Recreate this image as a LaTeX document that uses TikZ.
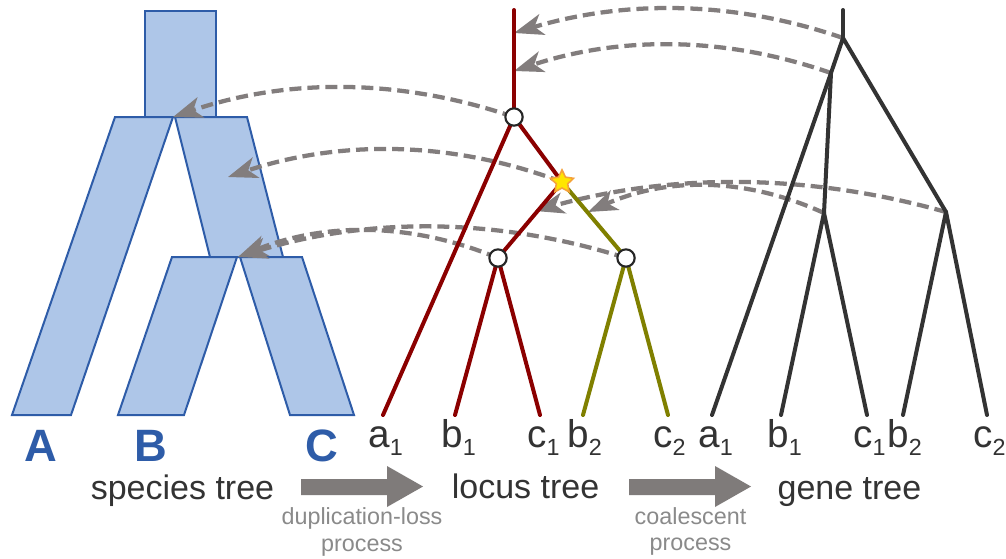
\documentclass[tikz,border=0pt]{standalone}
\usepackage{fontspec}
\setmainfont{Liberation Sans}
\usetikzlibrary{arrows.meta,shapes.geometric}
\definecolor{sfill}{HTML}{AEC6E8}
\definecolor{sdraw}{HTML}{2E5CA8}
\definecolor{lred}{HTML}{8B0000}
\definecolor{lolive}{HTML}{808000}
\definecolor{gdark}{HTML}{333333}
\definecolor{agray}{HTML}{827D7D}
\definecolor{bgray}{HTML}{7F7B7A}
\definecolor{tgray}{HTML}{8A8A8A}
\definecolor{starfill}{HTML}{FFE600}
\definecolor{stardraw}{HTML}{F5A23A}
\newcommand\lsub[1]{\raisebox{-6pt}{\fontsize{17.5pt}{18pt}\selectfont #1}}
\begin{document}
\begin{tikzpicture}[x=0.75pt,y=-0.75pt,
  sbranch/.style={fill=sfill,draw=sdraw,line width=1.5pt,line join=miter},
  redline/.style={draw=lred,line width=3pt,line cap=round},
  oliveline/.style={draw=lolive,line width=3pt,line cap=round},
  geneline/.style={draw=gdark,line width=3pt,line cap=round},
  dupnode/.style={circle,fill=white,draw=black!85,line width=1.6pt,minimum size=13pt,inner sep=0pt},
  lossstar/.style={star,star points=5,star point ratio=2.0,fill=starfill,draw=stardraw,line width=1.2pt,minimum size=18pt,inner sep=0pt},
  mapar/.style={draw=agray,line width=3.2pt,dash pattern=on 9pt off 4.5pt,-{Stealth[length=22pt,width=16pt,inset=6pt]}},
  leaflbl/.style={text=gdark,font=\fontsize{29pt}{30pt}\selectfont,inner sep=0pt,anchor=base west},
  splbl/.style={text=sdraw,font=\bfseries\fontsize{34pt}{36pt}\selectfont,inner sep=0pt,anchor=base},
  ttl/.style={text=gdark,font=\fontsize{25.5pt}{28pt}\selectfont,inner sep=0pt,anchor=base},
  proc/.style={text=tgray,font=\fontsize{17.5pt}{20pt}\selectfont,inner sep=0pt,anchor=base},
  bigarrow/.style={fill=bgray}]
\useasboundingbox (0,0) rectangle (1006,558);
\fill[white] (0,0) rectangle (1006,558);

% species tree
\path[sbranch] (145,11) rectangle (216,117);
\path[sbranch] (115,117) -- (173,117) -- (71,415) -- (12,415) -- cycle;
\path[sbranch] (175,117) -- (247,117) -- (283,257) -- (210,257) -- cycle;
\path[sbranch] (172,257) -- (237,257) -- (184,415) -- (118,415) -- cycle;
\path[sbranch] (240,257) -- (302,257) -- (354,415) -- (290,415) -- cycle;
\coordinate (sRoot) at (173,117);
\coordinate (sBC) at (228,177);
\coordinate (sBCn) at (238,257);

% locus tree coordinates
\coordinate (lTop) at (514,10);
\coordinate (lA1) at (514,33);
\coordinate (lA2) at (514,71);
\coordinate (lR) at (514,117);
\coordinate (lS) at (562,182);
\coordinate (lL) at (498,258);
\coordinate (lRt) at (626,258);
\coordinate (la1) at (383,415);
\coordinate (lb1) at (455,415);
\coordinate (lc1) at (540,415);
\coordinate (lb2) at (583,415);
\coordinate (lc2) at (668,415);
\coordinate (lX1) at (535,211);
\coordinate (lX2) at (588,212);

% gene tree coordinates
\coordinate (gTop) at (843,10);
\coordinate (gR) at (843,38);
\coordinate (gN1) at (831,73);
\coordinate (gN2) at (824,213);
\coordinate (gN3) at (946,212);
\coordinate (ga1) at (712,415);
\coordinate (gb1) at (781,415);
\coordinate (gc1) at (867,415);
\coordinate (gb2) at (903,415);
\coordinate (gc2) at (987,415);

% mapping arrows
\draw[mapar] (gR) .. controls (733,0) and (624,0) .. (lA1);
\draw[mapar] (gN1) .. controls (725,36) and (620,36) .. (lA2);
\draw[mapar] (lR) .. controls (400,78) and (287,78) .. (sRoot);
\draw[mapar] (lS) .. controls (451,140) and (339,140) .. (sBC);
\draw[mapar] (gN3) .. controls (808,173) and (671,173) .. (lX1);
\draw[mapar] (gN2) .. controls (745,177) and (667,177) .. (lX2);
\draw[mapar] (lL) .. controls (411,222) and (325,222) .. (sBCn);
\draw[mapar] (lRt) .. controls (497,217) and (367,217) .. (sBCn);

% locus tree
\draw[redline] (lTop) -- (lR);
\draw[redline] (lR) -- (la1);
\draw[redline] (lR) -- (lS);
\draw[redline] (lS) -- (lL);
\draw[redline] (lL) -- (lb1);
\draw[redline] (lL) -- (lc1);
\draw[oliveline] (lS) -- (lRt);
\draw[oliveline] (lRt) -- (lb2);
\draw[oliveline] (lRt) -- (lc2);
\node[dupnode] (dR) at (lR) {};
\node[dupnode] (dL) at (lL) {};
\node[dupnode] (dRt) at (lRt) {};
\node[lossstar] (star) at (lS) {};

% gene tree
\draw[geneline] (gTop) -- (gR);
\draw[geneline,line join=miter] (gN1) -- (gR) -- (gN3);
\draw[geneline] (gN1) -- (ga1);
\draw[geneline] (gN1) -- (gN2);
\draw[geneline] (gN2) -- (gb1);
\draw[geneline] (gN2) -- (gc1);
\draw[geneline] (gN3) -- (gb2);
\draw[geneline] (gN3) -- (gc2);

% labels
\node[splbl] (lblA) at (41,461) {A};
\node[splbl] (lblB) at (151,461) {B};
\node[splbl] (lblC) at (322,461) {C};

\node[leaflbl] (ta1) at (368,447) {a\lsub{1}};
\node[leaflbl] (tb1) at (441,447) {b\lsub{1}};
\node[leaflbl] (tc1) at (527,447) {c\lsub{1}};
\node[leaflbl] (tb2) at (567,447) {b\lsub{2}};
\node[leaflbl] (tc2) at (653,447) {c\lsub{2}};
\node[leaflbl] (ua1) at (698,447) {a\lsub{1}};
\node[leaflbl] (ub1) at (767,447) {b\lsub{1}};
\node[leaflbl] (uc1) at (853,447) {c\lsub{1}};
\node[leaflbl] (ub2) at (887,447) {b\lsub{2}};
\node[leaflbl] (uc2) at (973,447) {c\lsub{2}};

\node[ttl] (tspec) at (182.5,499) {species tree};
\node[ttl] (tloc) at (525.5,498) {locus tree};
\node[ttl] (tgen) at (849.5,499) {gene tree};

% process arrows
\path[bigarrow] (301,479) -- (387,479) -- (387,466) -- (423,486.5) -- (387,507) -- (387,495) -- (301,495) -- cycle;
\path[bigarrow] (629,479) -- (715,479) -- (715,466) -- (751,486.5) -- (715,507) -- (715,495) -- (629,495) -- cycle;
\node[proc] (p1a) at (362,524) {duplication-loss};
\node[proc] (p1b) at (362,551) {process};
\node[proc] (p2a) at (690.5,524) {coalescent};
\node[proc] (p2b) at (690.5,550) {process};
\end{tikzpicture}
\end{document}
